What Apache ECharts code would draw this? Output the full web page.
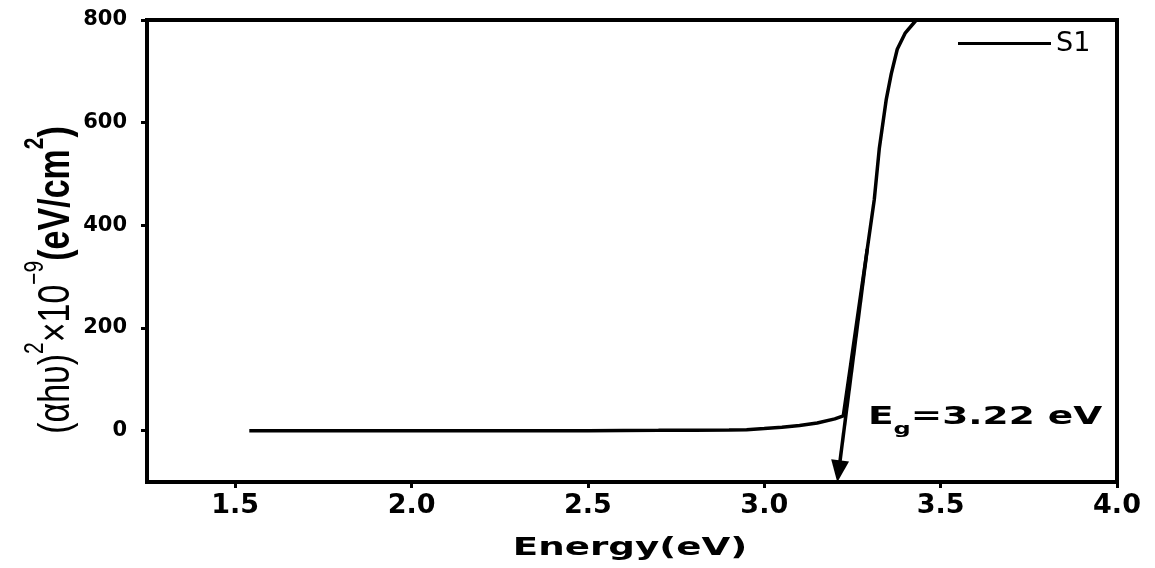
<!DOCTYPE html>
<html>
<head>
<meta charset="utf-8">
<script src="https://cdn.jsdelivr.net/npm/echarts@6/dist/echarts.min.js"></script>
<style>html,body{margin:0;padding:0;background:#fff;}#c{width:1155px;height:568px;}</style>
</head>
<body>
<div id="c"></div>
<script>
// Data
const energy = [1.54, 1.7, 1.9, 2.1, 2.3, 2.5, 2.6, 2.7, 2.8, 2.9, 2.95, 3.0, 3.05, 3.1, 3.15, 3.2, 3.224, 3.245, 3.27, 3.292, 3.312, 3.326, 3.346, 3.36, 3.377, 3.40, 3.431, 3.46];
const absorb = [0, 0, 0, 0, 0, 0, 0.3, 0.6, 1, 1.5, 2, 4, 6.5, 10, 15, 23, 29, 129, 249, 354, 451, 549, 646, 695, 743, 775, 800, 822];
const xTicks = [1.5, 2.0, 2.5, 3.0, 3.5, 4.0];
const yTicks = [0, 200, 400, 600, 800];
const arrowStart = [3.292, 354];
const arrowEnd = [3.211, -79];
const seriesName = 'S1';
const xTitle = 'Energy(eV)';
const gapLabel = '3.22 eV';

const chart = echarts.init(document.getElementById('c'), null, {renderer: 'canvas'});
const pts = energy.map((e, i) => [e, absorb[i]]);

chart.setOption({
  animation: false,
  backgroundColor: '#fff',
  grid: {left: 147, right: 38, top: 20, bottom: 86, show: true, borderColor: '#000', borderWidth: 4, backgroundColor: 'transparent', outerBoundsMode: 'none'},
  legend: {
    left: 958, top: 30, padding: 0, icon: 'rect', itemWidth: 93, itemHeight: 3,
    textStyle: {fontFamily: 'DejaVu Sans', fontSize: 27, color: '#000'},
    data: [seriesName]
  },
  xAxis: {
    type: 'value', min: 1.25, max: 4.0,
    axisLine: {show: true, onZero: false, lineStyle: {color: '#000', width: 4}},
    axisTick: {show: true, length: 6, lineStyle: {color: '#000', width: 3}, customValues: xTicks},
    axisLabel: {customValues: xTicks, formatter: v => v.toFixed(1), margin: 10, color: '#000', fontFamily: 'DejaVu Sans', fontWeight: 'bold', fontSize: 27},
    splitLine: {show: false}
  },
  yAxis: {
    type: 'value', min: -100, max: 800,
    axisLine: {show: true, onZero: false, lineStyle: {color: '#000', width: 4}},
    axisTick: {show: true, length: 6, lineStyle: {color: '#000', width: 3}, customValues: yTicks},
    axisLabel: {customValues: yTicks, margin: 20, color: '#000', fontFamily: 'DejaVu Sans', fontWeight: 'bold', fontSize: 21},
    splitLine: {show: false}
  },
  series: [{
    name: seriesName, type: 'line', data: pts, showSymbol: false, symbol: 'none',
    lineStyle: {color: '#000', width: 3.5}, itemStyle: {color: '#000'},
    clip: true,
    markLine: {
      silent: true, symbol: ['none', 'triangle'], symbolSize: [18, 22],
      label: {show: false},
      lineStyle: {color: '#000', width: 3.5, type: 'solid'},
      data: [[{coord: arrowStart}, {coord: arrowEnd}]]
    }
  }],
  graphic: [
    {
      type: 'text', x: 50, y: 280, rotation: Math.PI / 2, scaleY: 1.3,
      style: {
        text: '{a|(αhυ)}{s|2}{a|×10}{s|−9}{b|(eV/cm}{t|2}{b|)}',
        align: 'center', verticalAlign: 'middle', fill: '#000',
        rich: {
          a: {fontFamily: 'Liberation Sans', fontSize: 34, fill: '#000', verticalAlign: 'bottom', lineHeight: 44},
          s: {fontFamily: 'Liberation Sans', fontSize: 21, fill: '#000', verticalAlign: 'top', lineHeight: 44},
          b: {fontFamily: 'Liberation Sans', fontWeight: 'bold', fontSize: 34, fill: '#000', verticalAlign: 'bottom', lineHeight: 44},
          t: {fontFamily: 'Liberation Sans', fontWeight: 'bold', fontSize: 21, fill: '#000', verticalAlign: 'top', lineHeight: 44}
        }
      }
    },
    {
      type: 'text', x: 630, y: 549, scaleX: 1.55,
      style: {text: xTitle, align: 'center', verticalAlign: 'middle', fill: '#000', fontFamily: 'DejaVu Sans', fontWeight: 'bold', fontSize: 24}
    },
    {
      type: 'text', x: 868, y: 421, scaleX: 1.5,
      style: {
        text: '{e|E}{g|g}{e|=' + gapLabel + '}',
        align: 'left', verticalAlign: 'middle', fill: '#000',
        rich: {
          e: {fontFamily: 'DejaVu Sans', fontWeight: 'bold', fontSize: 25, fill: '#000', verticalAlign: 'top', lineHeight: 33},
          g: {fontFamily: 'DejaVu Sans', fontWeight: 'bold', fontSize: 16, fill: '#000', verticalAlign: 'bottom', lineHeight: 33}
        }
      }
    }
  ]
});
</script>
</body>
</html>
